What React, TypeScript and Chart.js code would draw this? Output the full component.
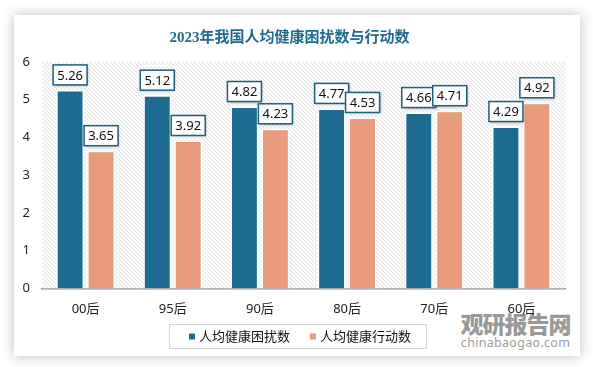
import React, { useEffect, useRef } from "react";
import { Chart, registerables } from "chart.js";

Chart.register(...registerables);

const categories = ["00后", "95后", "90后", "80后", "70后", "60后"];
const troubleValues = [5.26, 5.12, 4.82, 4.77, 4.66, 4.29];
const actionValues = [3.65, 3.92, 4.23, 4.53, 4.71, 4.92];
const seriesLabels = ["人均健康困扰数", "人均健康行动数"];
const seriesColors = ["#1d6b8f", "#e89c7c"];
const titleText = "2023年我国人均健康困扰数与行动数";

const W = 593;
const H = 367;
const SANS = "'Noto Sans', 'Noto Sans CJK SC', sans-serif";

function makePattern(ctx: CanvasRenderingContext2D) {
  const c = document.createElement("canvas");
  c.width = 4;
  c.height = 4;
  const g = c.getContext("2d")!;
  g.fillStyle = "#fcfcfc";
  g.fillRect(0, 0, 4, 4);
  g.strokeStyle = "#dedede";
  g.lineWidth = 0.9;
  g.beginPath();
  g.moveTo(-1, -1);
  g.lineTo(5, 5);
  g.moveTo(-1, 3);
  g.lineTo(1, 5);
  g.moveTo(3, -1);
  g.lineTo(5, 1);
  g.stroke();
  return ctx.createPattern(c, "repeat");
}

const hatchPlugin = {
  id: "hatch",
  beforeDatasetsDraw(chart: any) {
    const { ctx, chartArea } = chart;
    const p = makePattern(ctx);
    ctx.save();
    ctx.fillStyle = p || "#f4f4f4";
    ctx.fillRect(chartArea.left, chartArea.top, chartArea.right - chartArea.left, chartArea.bottom - chartArea.top);
    ctx.restore();
  },
};

const labelPlugin = {
  id: "valueBoxes",
  afterDatasetsDraw(chart: any) {
    const { ctx } = chart;
    ctx.save();
    ctx.font = "13px " + SANS;
    chart.data.datasets.forEach((ds: any, di: number) => {
      const meta = chart.getDatasetMeta(di);
      meta.data.forEach((bar: any, i: number) => {
        const txt = Number(ds.data[i]).toFixed(2);
        const tw = ctx.measureText(txt).width;
        const bw = Math.round(tw + 8);
        const bh = 20;
        const x = bar.x - bw / 2;
        const y = bar.y - 5 - bh;
        ctx.save();
        ctx.shadowColor = "rgba(0,0,0,0.35)";
        ctx.shadowBlur = 3;
        ctx.shadowOffsetX = 1;
        ctx.shadowOffsetY = 1;
        ctx.fillStyle = "#ffffff";
        ctx.fillRect(x, y, bw, bh);
        ctx.restore();
        ctx.strokeStyle = "#1f5f7e";
        ctx.lineWidth = 1.5;
        ctx.strokeRect(x, y, bw, bh);
        ctx.fillStyle = "#111111";
        ctx.textAlign = "center";
        ctx.textBaseline = "middle";
        ctx.fillText(txt, bar.x, y + bh / 2 + 1);
      });
    });
    ctx.restore();
  },
};

const legendPlugin = {
  id: "boxLegend",
  afterDraw(chart: any) {
    const { ctx } = chart;
    ctx.save();
    ctx.font = "13px " + SANS;
    const padL = 20;
    const padR = 15;
    const sq = 6;
    const gapSq = 4;
    const gapItem = 20;
    const widths = chart.data.datasets.map((d: any) => ctx.measureText(d.label).width);
    let total = padL + padR;
    widths.forEach((w: number, i: number) => {
      total += sq + gapSq + w + (i > 0 ? gapItem : 0);
    });
    const cx = 297.5;
    const top = 324;
    const h = 24;
    const left = cx - total / 2;
    ctx.strokeStyle = "#d4d4d4";
    ctx.lineWidth = 1;
    ctx.strokeRect(Math.round(left) + 0.5, top + 0.5, Math.round(total), h);
    let x = left + padL;
    const cy = top + h / 2 + 0.5;
    chart.data.datasets.forEach((d: any, i: number) => {
      ctx.fillStyle = d.backgroundColor;
      ctx.fillRect(x, cy - sq / 2, sq, sq);
      x += sq + gapSq;
      ctx.fillStyle = "#111111";
      ctx.textAlign = "left";
      ctx.textBaseline = "middle";
      ctx.fillText(d.label, x, cy + 1);
      x += widths[i] + gapItem;
    });
    ctx.restore();
  },
};

export default function App() {
  const ref = useRef<HTMLCanvasElement>(null);
  useEffect(() => {
    const chart = new Chart(ref.current!, {
      type: "bar",
      data: {
        labels: categories,
        datasets: [
          {
            label: seriesLabels[0],
            data: troubleValues,
            backgroundColor: seriesColors[0],
            borderColor: "#ffffff",
            borderWidth: 1.5,
            categoryPercentage: 0.71,
            barPercentage: 0.9,
          },
          {
            label: seriesLabels[1],
            data: actionValues,
            backgroundColor: seriesColors[1],
            borderColor: "#ffffff",
            borderWidth: 1.5,
            categoryPercentage: 0.71,
            barPercentage: 0.9,
          },
        ],
      },
      options: {
        responsive: false,
        animation: false,
        layout: { padding: { left: 14, right: 28, top: 15, bottom: 45 } },
        plugins: {
          legend: { display: false },
          tooltip: { enabled: false },
          title: {
            display: true,
            text: titleText,
            color: "#1f6a8f",
            font: { family: "'Liberation Serif', 'Noto Sans CJK SC', serif", size: 15, weight: "bold" },
            padding: { top: 14, bottom: 15 },
          },
        },
        scales: {
          x: {
            grid: { display: false },
            border: { display: true, color: "#8a8a8a", width: 1.5 },
            ticks: { color: "#222222", font: { family: SANS, size: 13 }, padding: 5 },
          },
          y: {
            min: 0,
            max: 6,
            grid: { display: false },
            border: { display: false },
            ticks: { stepSize: 1, color: "#222222", font: { family: SANS, size: 13 }, padding: 4 },
            afterFit: (s: any) => {
              s.width = 28;
            },
          },
        },
      },
      plugins: [hatchPlugin, labelPlugin, legendPlugin],
    });
    return () => chart.destroy();
  }, []);

  return (
    <div style={{ position: "absolute", left: 0, top: 0, width: W, height: H, background: "#ffffff", overflow: "hidden" }}>
      <div
        style={{
          position: "absolute",
          left: 14,
          top: 15,
          width: 566,
          height: 341,
          background: "#ffffff",
          boxShadow: "0 0 12px rgba(0,0,0,0.28)",
        }}
      />
      <div
        style={{
          position: "absolute",
          left: 458,
          top: 312,
          width: 115,
          fontFamily: "'Noto Sans CJK SC', sans-serif",
          color: "rgba(120,120,120,0.75)",
          textAlign: "center",
          lineHeight: 1,
        }}
      >
        <div style={{ fontSize: 23, fontWeight: 900, letterSpacing: -1 }}>观研报告网</div>
        <div style={{ fontSize: 12.5, fontFamily: "'Noto Sans', sans-serif", marginTop: 2, letterSpacing: 0.3 }}>chinabaogao.com</div>
      </div>
      <canvas ref={ref} width={W} height={H} style={{ position: "absolute", left: 0, top: 0 }} />
    </div>
  );
}
